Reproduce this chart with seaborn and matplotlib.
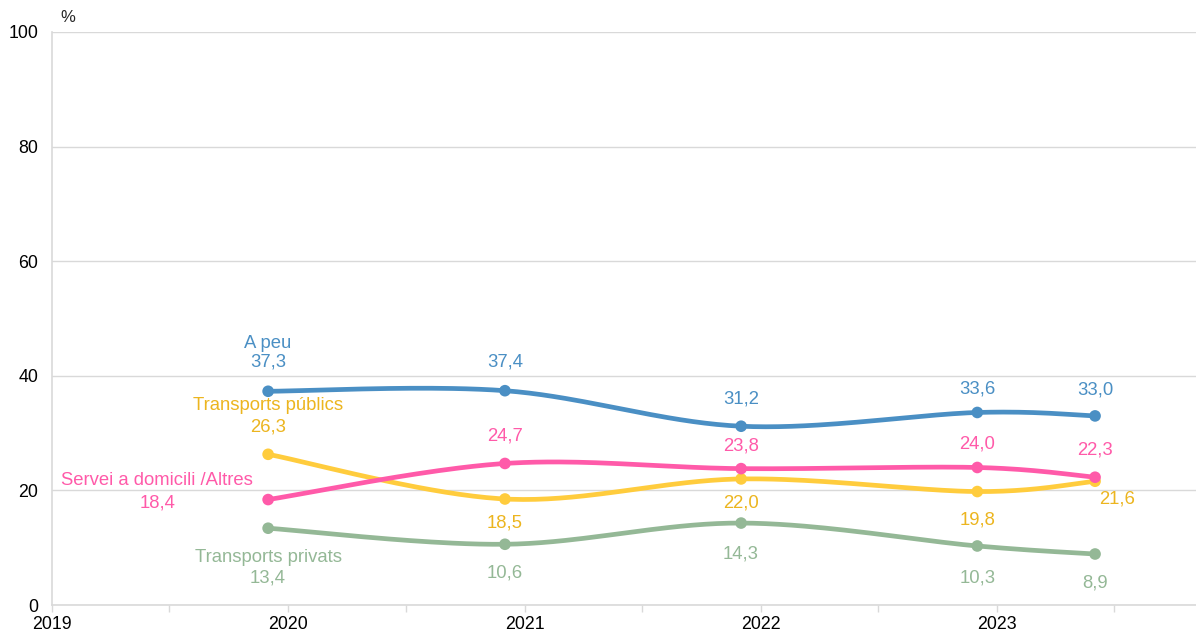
import numpy as np
import pandas as pd
import matplotlib
matplotlib.use("Agg")
from matplotlib import pyplot as plt
import matplotlib.dates as mdates
import seaborn as sns

# data
dates = ["2019-12-01", "2020-12-01", "2021-12-01", "2022-12-01", "2023-06-01"]
a_peu = [37.3, 37.4, 31.2, 33.6, 33.0]
transports_publics = [26.3, 18.5, 22.0, 19.8, 21.6]
servei_domicili = [18.4, 24.7, 23.8, 24.0, 22.3]
transports_privats = [13.4, 10.6, 14.3, 10.3, 8.9]
series_names = ["A peu", "Transports públics", "Servei a domicili /Altres", "Transports privats"]

line_colors = ["#4a8fc4", "#ffcc3d", "#ff5aa9", "#94b896"]
text_colors = ["#4a8fc4", "#ecb51f", "#ff5aa9", "#94b896"]

# label offsets in pixels (dx, dy) for each value label
offsets = {
    "A peu": [(0, 29), (0, 29), (0, 27), (0, 23), (0, 26)],
    "Transports públics": [(0, 27), (0, -24), (0, -24), (0, -28), (22, -18)],
    "Servei a domicili /Altres": [(-111, -3), (0, 27), (0, 23), (0, 23), (0, 27)],
    "Transports privats": [(0, -50), (0, -29), (0, -31), (0, -32), (0, -29)],
}
name_offsets = {
    "A peu": (0, 48),
    "Transports públics": (0, 49),
    "Servei a domicili /Altres": (-111, 19),
    "Transports privats": (0, -29),
}

df = pd.DataFrame({"date": pd.to_datetime(dates)})
for name, vals in zip(series_names, [a_peu, transports_publics, servei_domicili, transports_privats]):
    df[name] = vals
long = df.melt(id_vars="date", var_name="serie", value_name="pct")


def smooth(x, y, n=40):
    # Excel-like smoothed line: cubic bezier through the points
    pts = np.column_stack([x, y]).astype(float)
    ext = np.vstack([pts[0], pts, pts[-1]])
    out = []
    for i in range(len(pts) - 1):
        p0, p1 = ext[i + 1], ext[i + 2]
        c1 = p0 + (ext[i + 2] - ext[i]) / 6
        c2 = p1 - (ext[i + 3] - ext[i + 1]) / 6
        t = np.linspace(0, 1, n)[:, None]
        b = (1 - t) ** 3 * p0 + 3 * (1 - t) ** 2 * t * c1 + 3 * (1 - t) * t ** 2 * c2 + t ** 3 * p1
        out.append(b if i == 0 else b[1:])
    out = np.vstack(out)
    return out[:, 0], out[:, 1]


sns.set_theme(style="white")
plt.rcParams["font.family"] = ["Liberation Sans", "DejaVu Sans"]

fig = plt.figure(figsize=(11.96, 6.33), dpi=100)
ax = fig.add_axes([52 / 1196, 28 / 633, 1 - 52 / 1196, (605 - 32) / 633])

xnum = mdates.date2num(df["date"])
for name, lc in zip(series_names, line_colors):
    sx, sy = smooth(xnum, df[name].values)
    ax.plot(sx, sy, color=lc, lw=3.4, solid_capstyle="round", zorder=3)

sns.scatterplot(data=long, x="date", y="pct", hue="serie", palette=dict(zip(series_names, line_colors)),
                s=70, edgecolor="none", legend=False, ax=ax, zorder=4)

fs = 13.3
for name, tc in zip(series_names, text_colors):
    for d, v, (dx, dy) in zip(df["date"], df[name], offsets[name]):
        ax.annotate(f"{v:.1f}".replace(".", ","), (d, v), xytext=(dx, dy), textcoords="offset pixels",
                    ha="center", va="center", color=tc, fontsize=fs, zorder=5)
    dx, dy = name_offsets[name]
    ax.annotate(name, (df["date"][0], df[name][0]), xytext=(dx, dy), textcoords="offset pixels",
                ha="center", va="center", color=tc, fontsize=fs, zorder=5)

ax.set_ylim(0, 100)
ax.set_yticks(range(0, 101, 20))
ax.set_xlim(pd.Timestamp("2019-01-01"), pd.Timestamp("2023-11-04"))
ax.xaxis.set_major_locator(mdates.YearLocator())
ax.xaxis.set_major_formatter(mdates.DateFormatter("%Y"))
ax.xaxis.set_minor_locator(mdates.MonthLocator(bymonth=7))
ax.grid(axis="y", color="#d9d9d9", lw=1)
ax.set_axisbelow(True)
for side in ["top", "right"]:
    ax.spines[side].set_visible(False)
for side in ["left", "bottom"]:
    ax.spines[side].set_color("#d9d9d9")
    ax.spines[side].set_linewidth(1.2)
ax.tick_params(axis="y", length=0, pad=10, labelsize=12.8, labelcolor="black")
ax.tick_params(axis="x", which="both", length=5, width=1, color="#d9d9d9", bottom=True,
               labelsize=12.8, labelcolor="black", pad=3)
ax.set_xlabel("")
ax.set_ylabel("")
fig.text(68 / 1196, 1 - 17 / 633, "%", ha="center", va="center", fontsize=12)

fig.savefig("out.png", dpi=100)
